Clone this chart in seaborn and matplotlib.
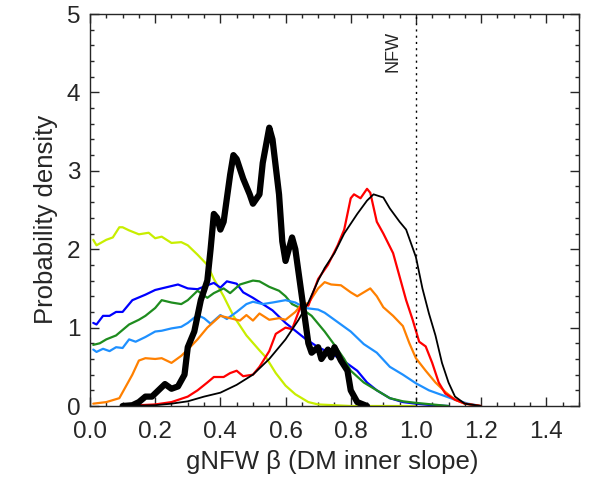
import numpy as np
import pandas as pd
import matplotlib
matplotlib.use("Agg")
import matplotlib.pyplot as plt
import seaborn as sns
from matplotlib.ticker import MultipleLocator, FormatStrFormatter

# posterior curves (x = gNFW beta, y = probability density)
yg_x = [0.01, 0.02, 0.05, 0.07, 0.09, 0.10, 0.12, 0.15, 0.18, 0.20, 0.22, 0.25, 0.28, 0.30, 0.33, 0.36, 0.38, 0.41, 0.44, 0.48, 0.52, 0.54, 0.57, 0.60, 0.63, 0.67, 0.70, 0.80, 0.90, 1.00]
yg_y = [2.12, 2.05, 2.12, 2.15, 2.28, 2.28, 2.24, 2.19, 2.21, 2.14, 2.16, 2.08, 2.09, 2.05, 1.93, 1.80, 1.62, 1.40, 1.15, 0.90, 0.71, 0.62, 0.42, 0.26, 0.15, 0.05, 0.02, 0.0, 0.0, 0.0]

blue_x = [0.01, 0.02, 0.04, 0.06, 0.08, 0.10, 0.13, 0.17, 0.20, 0.23, 0.27, 0.30, 0.33, 0.36, 0.38, 0.40, 0.42, 0.45, 0.47, 0.50, 0.53, 0.56, 0.60, 0.63, 0.66, 0.70, 0.74, 0.78, 0.82, 0.85, 0.88, 0.92, 0.96, 1.00, 1.05, 1.10]
blue_y = [1.06, 1.04, 1.15, 1.15, 1.20, 1.20, 1.35, 1.42, 1.48, 1.51, 1.55, 1.50, 1.49, 1.54, 1.57, 1.51, 1.59, 1.56, 1.45, 1.38, 1.30, 1.22, 1.06, 0.96, 0.86, 0.75, 0.67, 0.57, 0.45, 0.30, 0.20, 0.10, 0.05, 0.03, 0.01, 0.0]

green_x = [0.01, 0.03, 0.05, 0.08, 0.12, 0.15, 0.17, 0.20, 0.22, 0.25, 0.28, 0.30, 0.33, 0.36, 0.38, 0.41, 0.43, 0.46, 0.50, 0.52, 0.55, 0.58, 0.60, 0.62, 0.65, 0.68, 0.72, 0.75, 0.78, 0.80, 0.84, 0.88, 0.92, 0.96, 1.00, 1.05, 1.10]
green_y = [0.78, 0.80, 0.85, 0.90, 1.04, 1.10, 1.15, 1.25, 1.35, 1.32, 1.30, 1.35, 1.47, 1.38, 1.44, 1.50, 1.44, 1.55, 1.60, 1.59, 1.52, 1.47, 1.40, 1.30, 1.24, 1.15, 0.95, 0.78, 0.60, 0.45, 0.30, 0.20, 0.10, 0.06, 0.04, 0.02, 0.0]

lblue_x = [0.01, 0.02, 0.04, 0.06, 0.08, 0.10, 0.12, 0.14, 0.17, 0.20, 0.22, 0.25, 0.28, 0.30, 0.33, 0.35, 0.37, 0.40, 0.42, 0.45, 0.48, 0.50, 0.53, 0.56, 0.60, 0.63, 0.66, 0.70, 0.72, 0.75, 0.80, 0.84, 0.88, 0.92, 0.96, 1.00, 1.04, 1.08, 1.12, 1.16, 1.20]
lblue_y = [0.72, 0.69, 0.73, 0.70, 0.75, 0.74, 0.85, 0.82, 0.88, 0.95, 0.96, 0.99, 1.01, 1.06, 1.16, 1.12, 1.05, 1.16, 1.11, 1.20, 1.30, 1.33, 1.30, 1.32, 1.35, 1.32, 1.25, 1.23, 1.19, 1.10, 0.95, 0.79, 0.68, 0.50, 0.40, 0.29, 0.20, 0.14, 0.08, 0.03, 0.0]

orange_x = [0.01, 0.05, 0.09, 0.11, 0.13, 0.15, 0.17, 0.20, 0.22, 0.25, 0.28, 0.30, 0.33, 0.36, 0.40, 0.43, 0.46, 0.48, 0.50, 0.52, 0.55, 0.58, 0.60, 0.63, 0.65, 0.67, 0.70, 0.72, 0.74, 0.77, 0.80, 0.82, 0.86, 0.88, 0.90, 0.93, 0.96, 0.98, 1.00, 1.03, 1.06, 1.09, 1.12, 1.15, 1.20]
orange_y = [0.03, 0.05, 0.10, 0.25, 0.40, 0.58, 0.61, 0.60, 0.61, 0.55, 0.64, 0.72, 0.85, 1.00, 1.15, 1.12, 1.09, 1.16, 1.09, 1.18, 1.10, 1.12, 1.10, 1.20, 1.30, 1.31, 1.50, 1.58, 1.55, 1.54, 1.45, 1.40, 1.50, 1.40, 1.26, 1.15, 1.02, 0.80, 0.61, 0.45, 0.30, 0.18, 0.08, 0.03, 0.0]

red_x = [0.10, 0.20, 0.25, 0.30, 0.33, 0.36, 0.38, 0.41, 0.43, 0.45, 0.47, 0.50, 0.52, 0.55, 0.57, 0.60, 0.62, 0.64, 0.65, 0.67, 0.70, 0.73, 0.76, 0.78, 0.80, 0.81, 0.83, 0.85, 0.86, 0.88, 0.90, 0.93, 0.95, 0.97, 0.99, 1.01, 1.03, 1.05, 1.07, 1.09, 1.12, 1.15, 1.20]
red_y = [0.0, 0.02, 0.05, 0.12, 0.20, 0.30, 0.37, 0.37, 0.42, 0.45, 0.38, 0.40, 0.50, 0.70, 0.92, 1.00, 0.98, 1.20, 1.30, 1.28, 1.62, 1.80, 2.05, 2.25, 2.65, 2.70, 2.65, 2.77, 2.72, 2.35, 2.20, 1.95, 1.65, 1.35, 1.10, 0.82, 0.76, 0.55, 0.30, 0.16, 0.08, 0.03, 0.0]

kthin_x = [0.10, 0.20, 0.25, 0.30, 0.35, 0.40, 0.45, 0.50, 0.55, 0.60, 0.64, 0.67, 0.70, 0.72, 0.75, 0.78, 0.82, 0.85, 0.87, 0.90, 0.92, 0.95, 0.97, 1.00, 1.02, 1.04, 1.06, 1.08, 1.10, 1.12, 1.15, 1.20]
kthin_y = [0.0, 0.01, 0.03, 0.06, 0.12, 0.17, 0.27, 0.40, 0.60, 0.85, 1.10, 1.32, 1.60, 1.76, 1.95, 2.20, 2.45, 2.62, 2.70, 2.66, 2.52, 2.35, 2.25, 1.90, 1.50, 1.18, 0.90, 0.55, 0.30, 0.12, 0.03, 0.0]

kthick_x = [0.10, 0.13, 0.15, 0.17, 0.19, 0.21, 0.23, 0.25, 0.27, 0.29, 0.30, 0.32, 0.34, 0.36, 0.37, 0.38, 0.39, 0.40, 0.41, 0.43, 0.44, 0.45, 0.47, 0.49, 0.50, 0.52, 0.53, 0.55, 0.56, 0.58, 0.59, 0.60, 0.62, 0.63, 0.65, 0.67, 0.68, 0.70, 0.71, 0.73, 0.74, 0.75, 0.77, 0.79, 0.80, 0.82, 0.85]
kthick_y = [0.0, 0.01, 0.05, 0.12, 0.12, 0.20, 0.28, 0.22, 0.25, 0.40, 0.75, 0.95, 1.35, 1.60, 2.00, 2.45, 2.40, 2.25, 2.35, 2.95, 3.20, 3.15, 2.90, 2.70, 2.58, 2.70, 3.10, 3.55, 3.40, 2.70, 2.10, 1.85, 2.15, 2.00, 1.40, 0.80, 0.68, 0.75, 0.60, 0.72, 0.62, 0.75, 0.58, 0.45, 0.20, 0.05, 0.0]

series = [
    (yg_x, yg_y, "#c8ee00", 1.6),
    (blue_x, blue_y, "#0000ff", 1.6),
    (green_x, green_y, "#1e8c1e", 1.6),
    (lblue_x, lblue_y, "#1e90ff", 1.6),
    (orange_x, orange_y, "#ff8000", 1.6),
    (red_x, red_y, "#ff0000", 1.6),
    (kthin_x, kthin_y, "#000000", 1.3),
    (kthick_x, kthick_y, "#000000", 4.5),
]

sns.set_style("ticks")
plt.rcParams['font.family'] = ['Liberation Sans', 'DejaVu Sans']

fig, ax = plt.subplots(figsize=(5.98, 4.78), dpi=100)
fig.subplots_adjust(left=0.1505, right=0.968, top=0.9707, bottom=0.1506)

for xs, ys, col, lw in series:
    sns.lineplot(x=xs, y=ys, color=col, linewidth=lw, ax=ax, sort=False)

ax.axvline(1.0, color='black', linestyle=(0, (1.5, 3)), linewidth=1)
ax.text(0.93, 4.52, "NFW", rotation=90, fontsize=13, ha='center', va='center')

ax.set_xlim(0, 1.5)
ax.set_ylim(0, 5)
ax.xaxis.set_major_locator(MultipleLocator(0.2))
ax.xaxis.set_minor_locator(MultipleLocator(0.05))
ax.yaxis.set_major_locator(MultipleLocator(1))
ax.yaxis.set_minor_locator(MultipleLocator(0.2))
ax.xaxis.set_major_formatter(FormatStrFormatter('%.1f'))
ax.tick_params(which='both', direction='in', top=True, right=True, width=1, labelsize=17.5)
ax.tick_params(which='major', length=6.5)
ax.tick_params(which='minor', length=3.2)
ax.tick_params(axis='x', which='major', pad=11)
ax.tick_params(axis='y', which='major', pad=7)
for s in ax.spines.values():
    s.set_linewidth(1)

# IDL-style end labels on the y axis kept inside the axis range
fig.canvas.draw()
yticks = ax.yaxis.get_major_ticks()
yticks[0].label1.set_verticalalignment('baseline')
yticks[-1].label1.set_verticalalignment('top')

ax.set_xlabel("gNFW β (DM inner slope)", fontsize=18.5)
ax.set_ylabel("Probability density", fontsize=18.5)
ax.xaxis.set_label_coords(0.496, -0.112)
ax.yaxis.set_label_coords(-0.066, 0.477)

fig.savefig("out.png", dpi=100)
